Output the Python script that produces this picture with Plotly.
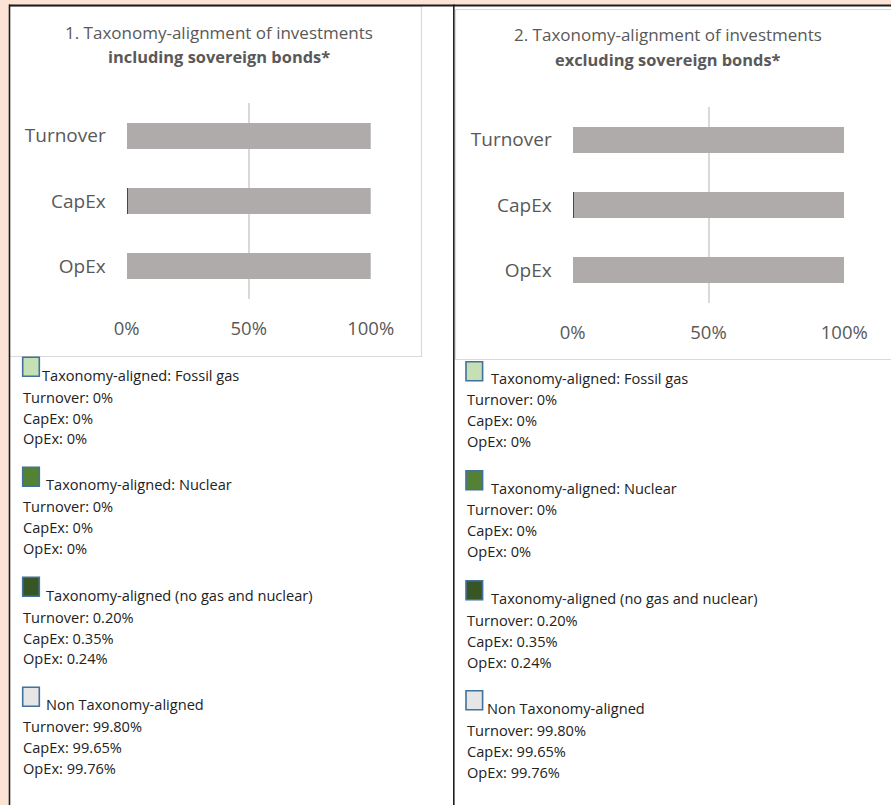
import plotly.graph_objects as go

# ---- data -------------------------------------------------------------
categories = ["Turnover", "CapEx", "OpEx"]
x_tick_vals = [0, 50, 100]
x_tick_text = ["0%", "50%", "100%"]

series_names = [
    "Taxonomy-aligned: Fossil gas",
    "Taxonomy-aligned: Nuclear",
    "Taxonomy-aligned (no gas and nuclear)",
    "Non Taxonomy-aligned",
]

# chart 1: including sovereign bonds
incl_fossil_gas = [0, 0, 0]
incl_nuclear = [0, 0, 0]
incl_aligned = [0.20, 0.35, 0.24]
incl_non_aligned = [99.80, 99.65, 99.76]

# chart 2: excluding sovereign bonds
excl_fossil_gas = [0, 0, 0]
excl_nuclear = [0, 0, 0]
excl_aligned = [0.20, 0.35, 0.24]
excl_non_aligned = [99.80, 99.65, 99.76]

titles_line1 = ["1. Taxonomy-alignment of investments",
                "2. Taxonomy-alignment of investments"]
titles_line2 = ["including sovereign bonds*", "excluding sovereign bonds*"]

# ---- styling ----------------------------------------------------------
W, H = 891, 805
FONT = "Open Sans"
GREY_TXT = "#595959"
DARK_TXT = "#222222"
GRID = "#D9D9D9"
bar_colors = ["#C5E0B4", "#548235", "#375623", "#AFABAB"]
swatch_colors = ["#C5E0B4", "#548235", "#375623", "#E7E6E6"]
SWATCH_EDGE = "#41719C"


def px(x):
    return x / W


def py(y):
    return 1 - y / H


def pct(v):
    return "0%" if v == 0 else f"{v:.2f}%"


fig = go.Figure()

panels = [
    dict(xa="x", ya="y",
         series=[incl_fossil_gas, incl_nuclear, incl_aligned, incl_non_aligned]),
    dict(xa="x2", ya="y2",
         series=[excl_fossil_gas, excl_nuclear, excl_aligned, excl_non_aligned]),
]

for p in panels:
    for name, vals, col in zip(series_names, p["series"], bar_colors):
        fig.add_trace(go.Bar(
            x=vals, y=categories, orientation="h", name=name,
            marker=dict(color=col, line=dict(width=0)),
            xaxis=p["xa"], yaxis=p["ya"], showlegend=False,
        ))

axis_x = dict(range=[0, 100], tickvals=x_tick_vals, ticktext=x_tick_text,
              showgrid=True, gridcolor=GRID, gridwidth=1.5, zeroline=False,
              showline=False, ticks="", ticklabelstandoff=16, automargin=False,
              tickfont=dict(family=FONT, size=18.5, color=GREY_TXT),
              fixedrange=True)
axis_y = dict(categoryorder="array", categoryarray=categories,
              autorange="reversed", showgrid=False, zeroline=False,
              showline=False, ticks="", ticklabelstandoff=20, automargin=False,
              tickfont=dict(family=FONT, size=19, color=GREY_TXT),
              fixedrange=True)

fig.update_layout(
    width=W, height=H,
    margin=dict(l=0, r=0, t=0, b=0, pad=0, autoexpand=False),
    paper_bgcolor="#FBE4D5",
    plot_bgcolor="rgba(0,0,0,0)",
    barmode="stack", bargap=0.6,
    xaxis=dict(axis_x, domain=[px(126.7), px(370.7)], anchor="y"),
    yaxis=dict(axis_y, domain=[py(299), py(103)], anchor="x"),
    xaxis2=dict(axis_x, domain=[px(572.7), px(844.3)], anchor="y2"),
    yaxis2=dict(axis_y, domain=[py(303), py(107)], anchor="x2"),
)

shapes = []
# white page area
shapes.append(dict(type="rect", xref="paper", yref="paper", layer="below",
                   x0=px(9), x1=1, y0=py(6), y1=0,
                   fillcolor="white", line=dict(width=0)))
# chart frames
shapes.append(dict(type="rect", xref="paper", yref="paper", layer="below",
                   x0=px(9.5), x1=px(421.5), y0=py(6.5), y1=py(356.5),
                   fillcolor="white", line=dict(color=GRID, width=1.2)))
shapes.append(dict(type="rect", xref="paper", yref="paper", layer="below",
                   x0=px(455.5), x1=px(W + 2), y0=py(9.5), y1=py(359.5),
                   fillcolor="white", line=dict(color=GRID, width=1.2)))
# table rules
shapes.append(dict(type="line", xref="paper", yref="paper",
                   x0=px(9), x1=1, y0=py(5.5), y1=py(5.5),
                   line=dict(color="#1E1E1E", width=2)))
shapes.append(dict(type="line", xref="paper", yref="paper",
                   x0=px(9.5), x1=px(9.5), y0=py(4.5), y1=0,
                   line=dict(color="#1E1E1E", width=1.6)))
shapes.append(dict(type="line", xref="paper", yref="paper",
                   x0=px(453.8), x1=px(453.8), y0=py(4.5), y1=0,
                   line=dict(color="#1E1E1E", width=1.6)))

annotations = []
# chart titles
for cx, y1, y2, t1, t2 in [(219, 32, 56, titles_line1[0], titles_line2[0]),
                           (667.5, 35, 59, titles_line1[1], titles_line2[1])]:
    annotations.append(dict(xref="paper", yref="paper", x=px(cx), y=py(y1),
                            xanchor="center", yanchor="middle", showarrow=False,
                            text=t1, font=dict(family=FONT, size=17, color=GREY_TXT)))
    annotations.append(dict(xref="paper", yref="paper", x=px(cx), y=py(y2),
                            xanchor="center", yanchor="middle", showarrow=False,
                            text=f"<b>{t2}</b>",
                            font=dict(family=FONT, size=16.4, color=GREY_TXT)))

# legend blocks under each chart
columns = [
    dict(series=panels[0]["series"], sw_x=22.7, val_x=22.7,
         tops=[357.3, 467.3, 577.3, 687.3], head_x=[41.7, 45, 45, 45],
         head_dy=[17.7, 17.0, 17.7, 17.0]),
    dict(series=panels[1]["series"], sw_x=466.0, val_x=466.7,
         tops=[361.7, 470.7, 580.7, 690.7], head_x=[490, 490, 490, 486.7],
         head_dy=[16.0, 17.0, 17.6, 17.6]),
]
line_dy = [21.5, 42.5, 63.2]

for col in columns:
    for i, name in enumerate(series_names):
        top = col["tops"][i]
        shapes.append(dict(type="rect", xref="paper", yref="paper",
                           x0=px(col["sw_x"]), x1=px(col["sw_x"] + 16.6),
                           y0=py(top), y1=py(top + 19),
                           fillcolor=swatch_colors[i],
                           line=dict(color=SWATCH_EDGE, width=1.6)))
        hy = top + col["head_dy"][i]
        annotations.append(dict(xref="paper", yref="paper",
                                x=px(col["head_x"][i] - 1.5), y=py(hy),
                                xanchor="left", yanchor="middle", showarrow=False,
                                text=name,
                                font=dict(family=FONT, size=14.6, color=DARK_TXT)))
        for k, cat in enumerate(categories):
            annotations.append(dict(xref="paper", yref="paper",
                                    x=px(col["val_x"] - 1.5), y=py(hy + line_dy[k]),
                                    xanchor="left", yanchor="middle",
                                    showarrow=False,
                                    text=f"{cat}: {pct(col['series'][i][k])}",
                                    font=dict(family=FONT, size=14.6, color=DARK_TXT)))

fig.update_layout(shapes=shapes, annotations=annotations)
fig.write_html("out.html")
